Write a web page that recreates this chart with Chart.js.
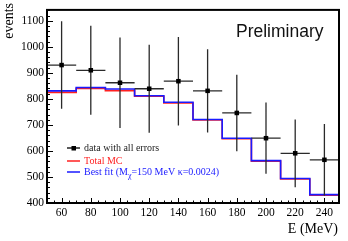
<!DOCTYPE html>
<html>
<head>
<meta charset="utf-8">
<script src="https://cdn.jsdelivr.net/npm/chart.js@4.4.1/dist/chart.umd.min.js"></script>
<style>
  body { margin: 0; background: #fff; }
  #wrap { width: 348px; height: 241px; position: relative; }
</style>
</head>
<body>
<div id="wrap"><canvas id="fit-chart"></canvas></div>
<script>
// bin centres (MeV) and measured counts
var energy = [60, 80, 100, 120, 140, 160, 180, 200, 220, 240];
var events = [930, 910, 862, 839, 868, 831, 746, 649, 591, 566];
var errors = [168, 171, 174, 169, 170, 160, 147, 137, 130, 138];

// histogram bin edges and the two MC curves
var binEdges = [50, 70, 90, 110, 130, 150, 170, 190, 210, 230, 250];
var totalMC = [825, 840, 832, 810, 784, 719, 647, 561, 492, 430];
var bestFit = [831, 844, 838, 812, 787, 721, 649, 563, 494, 432];

var xTicks = [60, 80, 100, 120, 140, 160, 180, 200, 220, 240];
var yTicks = [400, 500, 600, 700, 800, 900, 1000, 1100];

var serif = "'Liberation Serif', 'DejaVu Serif', serif";

function stepPoints(vals) {
    var pts = [];
    for (var i = 0; i < vals.length; i++) {
        pts.push({ x: binEdges[i], y: vals[i] });
    }
    pts.push({ x: binEdges[binEdges.length - 1], y: vals[vals.length - 1] });
    return pts;
}

function errorBarPoints() {
    var pts = [];
    for (var i = 0; i < energy.length; i++) {
        pts.push({ x: energy[i], y: events[i] - errors[i] });
        pts.push({ x: energy[i], y: events[i] + errors[i] });
        pts.push({ x: energy[i], y: null });
        pts.push({ x: energy[i] - 10, y: events[i] });
        pts.push({ x: energy[i] + 10, y: events[i] });
        pts.push({ x: energy[i], y: null });
    }
    return pts;
}

var dataPoints = [];
for (var i = 0; i < energy.length; i++) {
    dataPoints.push({ x: energy[i], y: events[i] });
}

// inward ticks, frame, labels and legend in ROOT style
var decorPlugin = {
    id: "decor",
    afterDraw: function (chart) {
        var ctx = chart.ctx;
        var a = chart.chartArea;
        var xs = chart.scales.x;
        var ys = chart.scales.y;
        ctx.save();
        ctx.strokeStyle = "#000";
        ctx.lineWidth = 1;
        var v, px;
        for (v = 400; v <= 1140; v += 20) {
            px = Math.round(ys.getPixelForValue(v)) + 0.5;
            var len = (v % 100 === 0) ? 6 : 3;
            ctx.beginPath();
            ctx.moveTo(a.left, px);
            ctx.lineTo(a.left + len, px);
            ctx.stroke();
        }
        for (v = 50; v <= 250; v += 5) {
            px = Math.round(xs.getPixelForValue(v)) + 0.5;
            var l2 = (v % 20 === 0) ? 5 : 2.5;
            ctx.beginPath();
            ctx.moveTo(px, a.bottom);
            ctx.lineTo(px, a.bottom - l2);
            ctx.stroke();
        }
        ctx.lineWidth = 2;
        ctx.strokeRect(a.left, a.top, a.right - a.left, a.bottom - a.top);

        // axis titles
        ctx.fillStyle = "#000";
        ctx.font = "14px " + serif;
        ctx.textAlign = "right";
        ctx.textBaseline = "alphabetic";
        ctx.fillText("E (MeV)", 338, 233);
        ctx.save();
        ctx.translate(13, 3);
        ctx.rotate(-Math.PI / 2);
        ctx.fillText("events", 0, 0);
        ctx.restore();

        ctx.textAlign = "left";
        ctx.fillStyle = "#111";
        ctx.font = "17.5px 'Liberation Sans', Arial, sans-serif";
        ctx.fillText("Preliminary", 236, 37);

        // legend
        ctx.font = "10px " + serif;
        ctx.textBaseline = "middle";
        ctx.lineWidth = 1.5;
        ctx.strokeStyle = "#222";
        ctx.beginPath(); ctx.moveTo(67, 148); ctx.lineTo(80, 148); ctx.stroke();
        ctx.fillStyle = "#000";
        ctx.fillRect(71.5, 146, 4.5, 4.5);
        ctx.fillStyle = "#222";
        ctx.fillText("data with all errors", 84, 148.5);

        ctx.strokeStyle = "#ff2020";
        ctx.beginPath(); ctx.moveTo(67, 161); ctx.lineTo(80, 161); ctx.stroke();
        ctx.fillStyle = "#ff2020";
        ctx.fillText("Total MC", 84, 161.5);

        ctx.strokeStyle = "#1a1aff";
        ctx.beginPath(); ctx.moveTo(67, 172); ctx.lineTo(80, 172); ctx.stroke();
        ctx.fillStyle = "#1a1aff";
        var t1 = "Best fit (M";
        ctx.fillText(t1, 84, 172.5);
        var w1 = ctx.measureText(t1).width;
        ctx.font = "8px " + serif;
        ctx.fillText("\u03c7", 84 + w1, 175.5);
        var w2 = ctx.measureText("\u03c7").width;
        ctx.font = "10px " + serif;
        ctx.fillText("=150 MeV \u03ba=0.0024)", 84 + w1 + w2, 172.5);
        ctx.restore();
    }
};

var fitChart = new Chart("fit-chart", {
    type: "line",
    data: {
        datasets: [
            {
                label: "data",
                type: "scatter",
                data: dataPoints,
                pointStyle: "rect",
                pointRadius: 3.2,
                backgroundColor: "#000",
                borderColor: "#000",
                borderWidth: 0,
                order: 0
            },
            {
                label: "errors",
                data: errorBarPoints(),
                borderColor: "#2a2a2a",
                borderWidth: 1.3,
                pointRadius: 0,
                spanGaps: false,
                fill: false,
                order: 1
            },
            {
                label: "Best fit",
                data: stepPoints(bestFit),
                stepped: true,
                borderColor: "#1a1aff",
                borderWidth: 1.6,
                pointRadius: 0,
                fill: false,
                order: 2
            },
            {
                label: "Total MC",
                data: stepPoints(totalMC),
                stepped: true,
                borderColor: "#ff2020",
                borderWidth: 1.6,
                pointRadius: 0,
                fill: false,
                order: 3
            }
        ]
    },
    options: {
        responsive: true,
        maintainAspectRatio: false,
        animation: false,
        layout: { padding: { top: 7, right: 9, left: 0, bottom: 0 } },
        plugins: {
            legend: { display: false },
            tooltip: { enabled: false }
        },
        scales: {
            x: {
                type: "linear",
                min: 50,
                max: 250,
                grid: { display: false, drawTicks: false },
                border: { display: false },
                afterBuildTicks: function (scale) {
                    scale.ticks = xTicks.map(function (t) { return { value: t }; });
                },
                afterFit: function (scale) { scale.height = 38; },
                ticks: {
                    maxRotation: 0,
                    autoSkip: false,
                    padding: 3,
                    color: "#000",
                    font: { family: serif, size: 11.5 },
                    callback: function (val) { return String(val); }
                }
            },
            y: {
                type: "linear",
                min: 400,
                max: 1142,
                grid: { display: false, drawTicks: false },
                border: { display: false },
                afterBuildTicks: function (scale) {
                    scale.ticks = yTicks.map(function (t) { return { value: t }; });
                },
                afterFit: function (scale) { scale.width = 47; },
                ticks: {
                    autoSkip: false,
                    padding: 3,
                    color: "#000",
                    font: { family: serif, size: 11.5 },
                    callback: function (val) { return String(val); }
                }
            }
        }
    },
    plugins: [decorPlugin]
});
</script>
</body>
</html>
